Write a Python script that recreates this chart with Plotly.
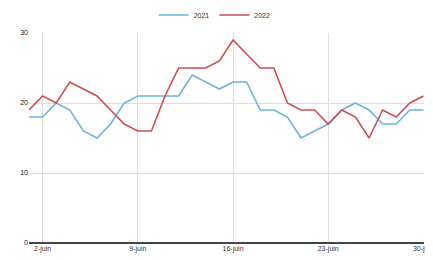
import plotly.graph_objects as go
import pandas as pd

days = pd.date_range("2022-06-01", "2022-06-30", freq="D")
temps_2021 = [18, 18, 20, 19, 16, 15, 17, 20, 21, 21, 21, 21, 24, 23, 22,
              23, 23, 19, 19, 18, 15, 16, 17, 19, 20, 19, 17, 17, 19, 19]
temps_2022 = [19, 21, 20, 23, 22, 21, 19, 17, 16, 16, 21, 25, 25, 25, 26,
              29, 27, 25, 25, 20, 19, 19, 17, 19, 18, 15, 19, 18, 20, 21]
tick_dates = ["2022-06-02", "2022-06-09", "2022-06-16", "2022-06-23", "2022-06-30"]
tick_labels = ["2-juin", "9-juin", "16-juin", "23-juin", "30-juin"]
y_ticks = [0, 10, 20, 30]

fig = go.Figure()
fig.add_trace(go.Scatter(x=days, y=temps_2021, mode="lines", name="2021",
                         line=dict(color="#6cb4d8", width=1.6)))
fig.add_trace(go.Scatter(x=days, y=temps_2022, mode="lines", name="2022",
                         line=dict(color="#cf4e50", width=1.6)))

fig.update_layout(
    width=433, height=252,
    margin=dict(l=21, r=17, t=25, b=17, autoexpand=False),
    paper_bgcolor="white", plot_bgcolor="white",
    font=dict(family="Liberation Sans", size=7, color="#333"),
    showlegend=True,
    legend=dict(orientation="h", x=0.47, xanchor="center",
                y=1.086, yanchor="middle",
                font=dict(size=7, color="#333"), itemwidth=30,
                bgcolor="rgba(0,0,0,0)"),
    xaxis=dict(range=["2022-06-01 00:00", "2022-06-30 01:00"],
               tickvals=tick_dates, ticktext=tick_labels,
               showgrid=True, gridcolor="#dedede", gridwidth=1,
               showline=False, zeroline=False, ticks="",
               ticklabeloverflow="allow",
               tickfont=dict(size=7, color="#333")),
    yaxis=dict(range=[0, 30], tickvals=y_ticks, showgrid=True, gridcolor="#dedede",
               zeroline=True, zerolinecolor="#444", zerolinewidth=1.5,
               showline=False, ticks="", tickfont=dict(size=7, color="#222")),
)

fig.write_html("out.html")
